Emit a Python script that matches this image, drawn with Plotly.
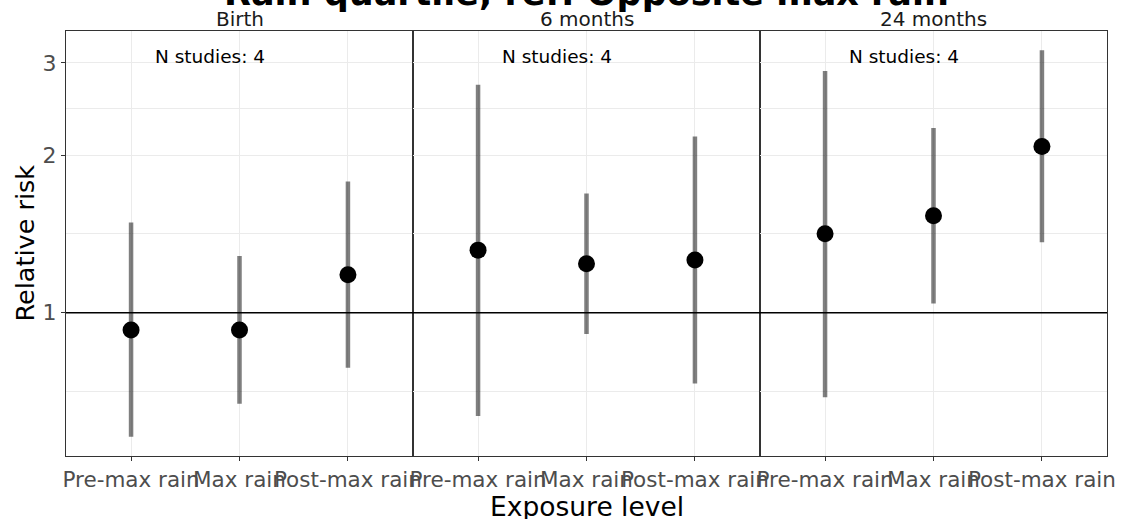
import numpy as np
import plotly.graph_objects as go
from plotly.subplots import make_subplots

# ---- data ----
panels = ["Birth", "6 months", "24 months"]
exposure = ["Pre-max rain", "Max rain", "Post-max rain"]

rr_birth = [0.927, 0.927, 1.182]
lo_birth = [0.580, 0.670, 0.785]
hi_birth = [1.487, 1.283, 1.780]

rr_6m = [1.317, 1.241, 1.261]
lo_6m = [0.635, 0.911, 0.733]
hi_6m = [2.724, 1.689, 2.170]

rr_24m = [1.415, 1.532, 2.077]
lo_24m = [0.690, 1.042, 1.364]
hi_24m = [2.896, 2.254, 3.170]

n_studies = [4, 4, 4]

y_ticks = [1, 2, 3]
y_tick_labels = ["1", "2", "3"]
y_minor = [0.7071, 1.4142, 2.4495]

title_text = "Rain quartile, ref: Opposite max rain"
x_title = "Exposure level"
y_title = "Relative risk"

rr_all = [rr_birth, rr_6m, rr_24m]
lo_all = [lo_birth, lo_6m, lo_24m]
hi_all = [hi_birth, hi_6m, hi_24m]

# ---- figure ----
FONT = "DejaVu Sans"
fig = make_subplots(rows=1, cols=3, shared_yaxes=True, horizontal_spacing=0)

for i in range(3):
    xs, ys = [], []
    for cat, lo, hi in zip(exposure, lo_all[i], hi_all[i]):
        xs += [cat, cat, None]
        ys += [lo, hi, None]
    fig.add_trace(go.Scatter(x=xs, y=ys, mode="lines",
                             line=dict(color="rgba(0,0,0,0.5)", width=4.5),
                             hoverinfo="skip", showlegend=False), row=1, col=i + 1)
    fig.add_trace(go.Scatter(x=exposure, y=rr_all[i], mode="markers",
                             marker=dict(color="black", size=17),
                             showlegend=False), row=1, col=i + 1)

all_lo = min(min(l) for l in lo_all)
all_hi = max(max(h) for h in hi_all)
l0, l1 = np.log10(all_lo), np.log10(all_hi)
pad = 0.05 * (l1 - l0)
yrange = [l0 - pad, l1 + pad]

for i in range(3):
    fig.update_xaxes(type="category", categoryorder="array", categoryarray=exposure,
                     range=[-0.6, 2.6], showgrid=True, gridcolor="#EBEBEB", gridwidth=1.1,
                     ticks="outside", ticklen=4, tickwidth=1.1, tickcolor="#333333",
                     tickangle=0, automargin=False,
                     tickfont=dict(family=FONT, size=21.5, color="#4D4D4D"),
                     showline=True, mirror=True, linecolor="#333333", linewidth=1.1,
                     zeroline=False, row=1, col=i + 1)
    fig.update_yaxes(type="log", range=yrange, tickvals=y_ticks, ticktext=y_tick_labels,
                     showgrid=True, gridcolor="#EBEBEB", gridwidth=1.1,
                     minor=dict(tickvals=y_minor, showgrid=True, gridcolor="#EBEBEB",
                                gridwidth=0.6, ticks=""),
                     ticks="outside" if i == 0 else "", ticklen=4, tickwidth=1.1,
                     tickcolor="#333333", automargin=False,
                     tickfont=dict(family=FONT, size=22, color="#4D4D4D"),
                     showticklabels=(i == 0),
                     showline=True, mirror=True, linecolor="#333333", linewidth=1.1,
                     zeroline=False, row=1, col=i + 1)

# reference line at RR = 1
fig.add_shape(type="line", xref="paper", x0=0, x1=1, yref="y", y0=1, y1=1,
              line=dict(color="black", width=1.6), layer="above")

annotations = []
xrefs = ["x", "x2", "x3"]
for i in range(3):
    dom = fig.layout["xaxis" if i == 0 else f"xaxis{i+1}"].domain
    annotations.append(dict(text=panels[i], xref="paper", yref="paper",
                            x=(dom[0] + dom[1]) / 2, y=1, xanchor="center", yanchor="bottom",
                            yshift=-2, showarrow=False,
                            font=dict(family=FONT, size=20, color="#1A1A1A")))
    annotations.append(dict(text=f"N studies: {n_studies[i]}", xref=xrefs[i],
                            yref="y", x=0.73, y=np.log10(3), xanchor="center",
                            yanchor="middle", yshift=6, showarrow=False,
                            font=dict(family=FONT, size=18.5, color="black")))

annotations.append(dict(text=f"<b>{title_text}</b>", xref="paper", yref="paper",
                        x=0.5, y=1, xanchor="center", yanchor="bottom", yshift=16,
                        showarrow=False, font=dict(family=FONT, size=35, color="black")))
annotations.append(dict(text=x_title, xref="paper", yref="paper", x=0.5, y=0,
                        xanchor="center", yanchor="top", yshift=-33, showarrow=False,
                        font=dict(family=FONT, size=26.5, color="black")))
annotations.append(dict(text=y_title, xref="paper", yref="paper", x=0, y=0.5,
                        xanchor="center", yanchor="middle", xshift=-42, textangle=-90,
                        showarrow=False, font=dict(family=FONT, size=25.5, color="black")))

fig.update_layout(width=1123, height=519,
                  margin=dict(l=66, r=16, t=31, b=63),
                  paper_bgcolor="white", plot_bgcolor="white",
                  showlegend=False, annotations=annotations,
                  font=dict(family=FONT))

fig.write_html("out.html", config={"displayModeBar": False},
               post_script="document.body.style.margin='0';document.body.style.overflow='hidden';")
